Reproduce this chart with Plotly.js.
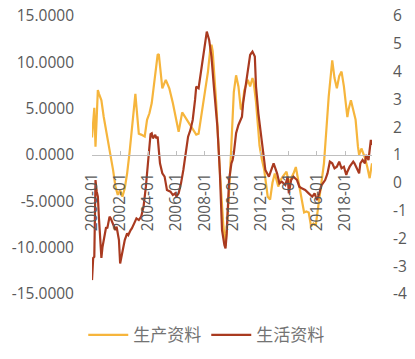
<!DOCTYPE html>
<html>
<head>
<meta charset="utf-8">
<script src="https://cdn.plot.ly/plotly-3.0.1.min.js"></script>
<style>
html,body{margin:0;padding:0;background:#fff;}
#chart{width:415px;height:359px;}
</style>
</head>
<body>
<div id="chart"></div>
<script>
// 生产资料 (left axis)
const prodMonths = ['2000-01','2000-03','2000-04','2000-06','2000-07','2000-09','2000-11','2001-02','2001-05','2001-07','2001-09','2001-11','2002-01','2002-03','2002-05','2002-07','2002-09','2002-11','2003-02','2003-03','2003-05','2003-07','2003-10','2003-12','2004-02','2004-04','2004-06','2004-07','2004-09','2004-10','2004-11','2005-01','2005-04','2005-07','2005-10','2005-12','2006-03','2006-06','2006-09','2006-12','2007-03','2007-06','2007-08','2007-10','2008-01','2008-04','2008-06','2008-07','2008-08','2008-09','2008-11','2009-02','2009-05','2009-07','2009-09','2009-10','2009-11','2009-12','2010-01','2010-02','2010-04','2010-06','2010-08','2010-09','2010-11','2011-02','2011-04','2011-06','2011-07','2011-09','2011-11','2011-12','2012-02','2012-04','2012-07','2012-09','2012-11','2013-01','2013-04','2013-06','2013-08','2013-11','2014-01','2014-05','2014-07','2014-09','2014-12','2015-02','2015-04','2015-06','2015-08','2015-10','2015-12','2016-02','2016-05','2016-07','2016-09','2016-11','2017-02','2017-04','2017-06','2017-08','2017-10','2017-12','2018-03','2018-04','2018-06','2018-08','2018-10','2018-12','2019-01','2019-03','2019-06','2019-08','2019-10','2019-12'];
const prodValues = [1.9,5.1,0.9,7.0,6.6,5.9,4.1,2.0,0.2,-1.6,-3.4,-4.3,-3.8,-4.5,-3.6,-2.0,0.2,3.0,6.6,5.2,2.3,2.2,2.0,3.8,4.5,5.6,7.7,8.3,10.8,10.9,9.5,7.2,8.1,7.2,5.6,4.2,2.5,4.6,4.0,3.3,2.7,2.2,2.3,4.0,6.4,9.0,11.5,11.9,11.2,9.5,5.6,-1.6,-7.4,-9.8,-6.5,-4.0,-1.5,1.0,4.5,6.8,8.6,7.4,5.0,4.9,7.0,8.1,7.4,8.3,7.9,5.7,2.6,1.0,-0.5,-1.6,-4.5,-4.8,-3.0,-2.0,-3.4,-2.7,-2.3,-1.8,-3.0,-2.0,-1.3,-2.7,-4.9,-6.2,-6.1,-6.2,-7.7,-7.4,-7.6,-5.6,-2.7,-0.9,2.7,6.3,10.2,8.3,7.2,8.5,9.0,7.4,4.1,4.9,5.9,4.9,3.8,0.9,0.0,0.7,-0.3,-1.3,-2.5,-0.9];

// 生活资料 (right axis)
const consMonths = ['2000-01','2000-02','2000-03','2000-04','2000-05','2000-06','2000-07','2000-08','2000-09','2000-10','2000-12','2001-01','2001-02','2001-04','2001-05','2001-07','2001-09','2001-10','2001-12','2002-01','2002-03','2002-04','2002-05','2002-07','2002-08','2002-10','2002-11','2003-01','2003-02','2003-03','2003-05','2003-07','2003-09','2003-11','2004-01','2004-03','2004-04','2004-05','2004-07','2004-08','2004-09','2004-10','2004-11','2005-01','2005-03','2005-04','2005-05','2005-08','2005-10','2005-12','2006-01','2006-03','2006-05','2006-07','2006-09','2006-11','2007-01','2007-03','2007-05','2007-06','2007-08','2007-09','2007-11','2008-01','2008-03','2008-05','2008-07','2008-09','2008-12','2009-02','2009-03','2009-04','2009-06','2009-07','2009-08','2009-09','2009-10','2009-12','2010-01','2010-02','2010-04','2010-06','2010-09','2010-10','2010-12','2011-02','2011-04','2011-05','2011-06','2011-08','2011-09','2011-11','2012-01','2012-03','2012-05','2012-08','2012-10','2012-12','2013-03','2013-05','2013-07','2013-10','2013-12','2014-01','2014-03','2014-05','2014-08','2014-10','2014-12','2015-03','2015-06','2015-09','2015-11','2016-01','2016-03','2016-05','2016-08','2016-10','2016-12','2017-02','2017-04','2017-06','2017-08','2017-10','2017-12','2018-02','2018-03','2018-05','2018-08','2018-09','2018-11','2019-01','2019-02','2019-04','2019-06','2019-07','2019-09','2019-10','2019-11','2019-12'];
const consValues = [-3.5,-2.7,-2.66,0.1,-0.3,-0.5,-1.3,-2.0,-2.7,-2.3,-1.8,-1.6,-1.64,-1.22,-1.28,-1.46,-1.7,-1.58,-2.06,-2.9,-2.42,-2.3,-2.06,-1.82,-1.88,-1.7,-1.64,-1.46,-1.34,-1.28,-1.34,-1.22,-0.86,-0.14,0.82,1.75,1.78,1.6,1.72,1.6,1.66,1.2,0.7,0.34,0.22,-0.02,-0.26,-0.32,-0.44,-0.38,-0.5,-0.38,-0.02,0.46,1.06,1.66,1.9,2.26,2.98,3.46,3.4,3.7,4.3,5.02,5.44,5.14,4.54,3.46,2.02,0.46,-0.86,-1.7,-2.24,-2.36,-1.82,-0.86,0.1,0.7,0.82,1.06,1.78,2.08,2.38,2.86,3.46,4.18,4.6,4.66,4.72,4.54,3.46,2.5,1.78,1.06,0.46,0.22,0.46,0.7,0.34,-0.02,0.04,-0.08,0.22,-0.38,0.1,0.22,0.1,-0.14,-0.2,-0.26,-0.38,-0.5,-0.38,-0.62,-0.38,-0.08,0.1,0.34,0.76,0.7,0.52,0.58,0.76,0.52,0.58,0.28,0.4,0.58,0.76,0.7,0.52,0.34,0.7,0.82,0.7,1.0,0.82,1.18,1.54,1.36];

const seriesNames = ['生产资料', '生活资料'];
const leftTickVals = [15, 10, 5, 0, -5, -10, -15];
const leftTickText = ['15.0000', '10.0000', '5.0000', '0.0000', '-5.0000', '-10.0000', '-15.0000'];
const rightTickVals = [6, 5, 4, 3, 2, 1, 0, -1, -2, -3, -4];
const rightTickText = ['6', '5', '4', '3', '2', '1', '0', '-1', '-2', '-3', '-4'];

const tickFont = {family: 'Open Sans, Liberation Sans, sans-serif', size: 15.5, color: '#595959'};

const traces = [
  {x: prodMonths, y: prodValues, name: seriesNames[0], type: 'scatter', mode: 'lines',
   line: {color: '#F6B53C', width: 2.2}, yaxis: 'y'},
  {x: consMonths, y: consValues, name: seriesNames[1], type: 'scatter', mode: 'lines',
   line: {color: '#A93A20', width: 2.2}, yaxis: 'y2'}
];

const layout = {
  width: 415, height: 359,
  margin: {l: 92, r: 43, t: 16, b: 65},
  paper_bgcolor: '#ffffff', plot_bgcolor: '#ffffff',
  showlegend: true,
  legend: {orientation: 'h', xref: 'container', yref: 'container', x: 0.497, xanchor: 'center',
           y: 0.066, yanchor: 'middle',
           font: {family: 'Noto Sans CJK SC', size: 17, color: '#737373'},
           itemwidth: 40, tracegroupgap: 0},
  xaxis: {type: 'date', range: ['2000-01-01', '2019-12-01'], anchor: 'free', position: 0.5,
          tick0: '2000-01-01', dtick: 'M24', tickformat: '%Y-%m', tickangle: -90,
          showgrid: false, zeroline: false, showline: true, linecolor: '#BFBFBF', linewidth: 1,
          ticks: 'inside', ticklen: 4, tickcolor: '#BFBFBF', ticklabelstandoff: 11,
          tickfont: tickFont, automargin: false, fixedrange: true},
  yaxis: {range: [-15, 15], tickvals: leftTickVals, ticktext: leftTickText,
          showgrid: false, zeroline: false, showline: false, ticks: '',
          ticklabelstandoff: 17, tickfont: tickFont, automargin: false, fixedrange: true},
  yaxis2: {range: [-4, 6], overlaying: 'y', side: 'right', tickvals: rightTickVals, ticktext: rightTickText,
           showgrid: false, zeroline: false, showline: false, ticks: '',
           ticklabelstandoff: 20, tickfont: tickFont, automargin: false, fixedrange: true}
};

Plotly.newPlot('chart', traces, layout, {staticPlot: true, displayModeBar: false});
</script>
</body>
</html>
